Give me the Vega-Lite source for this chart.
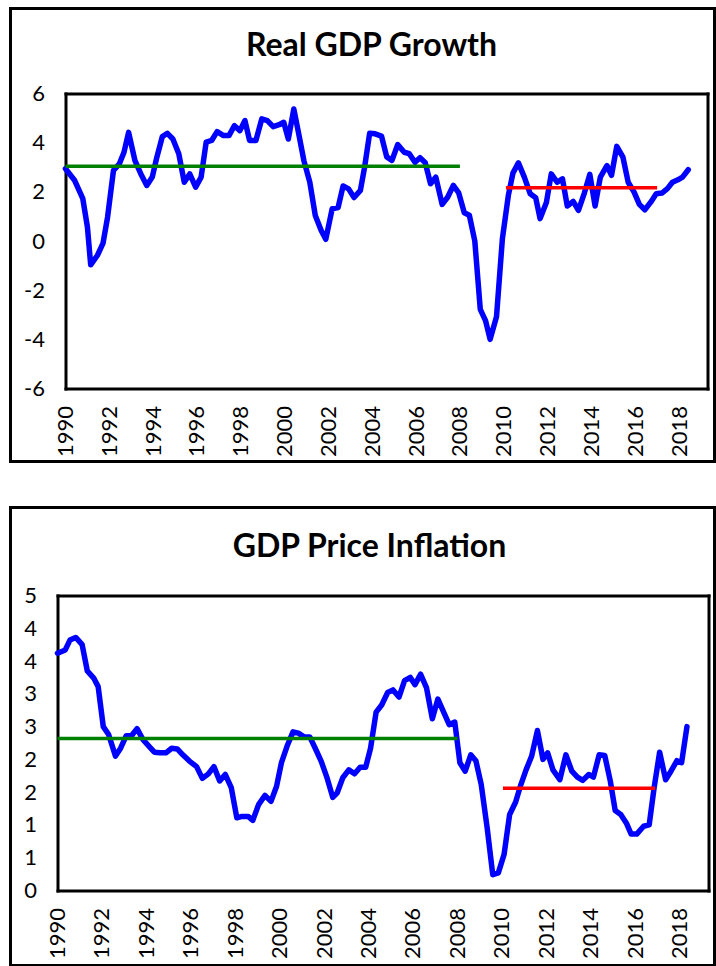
{
  "$schema": "https://vega.github.io/schema/vega-lite/v6.json",
  "padding": {"left": 8.5, "top": 6.5, "right": 0, "bottom": 0},
  "autosize": {"type": "pad"},
  "spacing": 42,
  "background": "white",
  "config": {
    "font": "Lato",
    "view": {"stroke": "#000", "strokeWidth": 3},
    "axis": {"grid": false, "ticks": false, "domain": true, "domainColor": "#000", "domainWidth": 3, "domainCap": "square", "labelFont": "Lato", "labelFontSize": 22, "labelColor": "#000", "labelFlush": false, "labelOverlap": false, "title": null},
    "title": {"font": "Lato", "fontSize": 32, "fontWeight": "bold", "color": "#000", "anchor": "middle", "frame": "group"}
  },
  "datasets": {
    "growth": [
      {"t":1990.00,"v":2.94},{"t":1990.42,"v":2.46},{"t":1990.79,"v":1.72},{"t":1991.00,"v":0.57},{"t":1991.15,"v":-0.97},{"t":1991.46,"v":-0.58},{"t":1991.71,"v":-0.10},{"t":1991.92,"v":0.97},{"t":1992.19,"v":2.87},{"t":1992.46,"v":3.14},{"t":1992.67,"v":3.61},{"t":1992.88,"v":4.42},{"t":1993.17,"v":3.27},{"t":1993.44,"v":2.73},{"t":1993.71,"v":2.26},{"t":1993.96,"v":2.60},{"t":1994.17,"v":3.41},{"t":1994.42,"v":4.25},{"t":1994.65,"v":4.38},{"t":1994.90,"v":4.15},{"t":1995.17,"v":3.55},{"t":1995.42,"v":2.39},{"t":1995.67,"v":2.73},{"t":1995.94,"v":2.19},{"t":1996.19,"v":2.60},{"t":1996.42,"v":4.02},{"t":1996.67,"v":4.09},{"t":1996.92,"v":4.45},{"t":1997.21,"v":4.29},{"t":1997.46,"v":4.29},{"t":1997.71,"v":4.69},{"t":1997.96,"v":4.49},{"t":1998.19,"v":4.90},{"t":1998.40,"v":4.09},{"t":1998.69,"v":4.09},{"t":1998.96,"v":4.97},{"t":1999.21,"v":4.90},{"t":1999.48,"v":4.65},{"t":1999.75,"v":4.73},{"t":1999.96,"v":4.83},{"t":2000.17,"v":4.15},{"t":2000.42,"v":5.37},{"t":2000.63,"v":4.42},{"t":2000.88,"v":3.27},{"t":2001.15,"v":2.39},{"t":2001.40,"v":1.04},{"t":2001.67,"v":0.43},{"t":2001.88,"v":0.07},{"t":2002.17,"v":1.31},{"t":2002.44,"v":1.36},{"t":2002.67,"v":2.24},{"t":2002.92,"v":2.12},{"t":2003.17,"v":1.77},{"t":2003.46,"v":2.06},{"t":2003.65,"v":3.00},{"t":2003.88,"v":4.38},{"t":2004.13,"v":4.36},{"t":2004.42,"v":4.27},{"t":2004.66,"v":3.42},{"t":2004.90,"v":3.28},{"t":2005.16,"v":3.92},{"t":2005.46,"v":3.61},{"t":2005.69,"v":3.55},{"t":2005.95,"v":3.20},{"t":2006.18,"v":3.39},{"t":2006.42,"v":3.18},{"t":2006.66,"v":2.33},{"t":2006.90,"v":2.60},{"t":2007.19,"v":1.49},{"t":2007.44,"v":1.78},{"t":2007.70,"v":2.26},{"t":2007.94,"v":1.97},{"t":2008.20,"v":1.15},{"t":2008.43,"v":1.05},{"t":2008.68,"v":0.00},{"t":2008.93,"v":-2.78},{"t":2009.17,"v":-3.24},{"t":2009.38,"v":-4.00},{"t":2009.67,"v":-3.08},{"t":2009.94,"v":0.10},{"t":2010.21,"v":1.85},{"t":2010.42,"v":2.76},{"t":2010.67,"v":3.18},{"t":2010.94,"v":2.60},{"t":2011.21,"v":1.92},{"t":2011.46,"v":1.76},{"t":2011.66,"v":0.91},{"t":2011.95,"v":1.58},{"t":2012.17,"v":2.73},{"t":2012.44,"v":2.39},{"t":2012.68,"v":2.53},{"t":2012.90,"v":1.42},{"t":2013.17,"v":1.61},{"t":2013.41,"v":1.25},{"t":2013.68,"v":1.95},{"t":2013.93,"v":2.71},{"t":2014.17,"v":1.42},{"t":2014.41,"v":2.60},{"t":2014.71,"v":3.07},{"t":2014.92,"v":2.67},{"t":2015.16,"v":3.85},{"t":2015.44,"v":3.41},{"t":2015.68,"v":2.39},{"t":2015.95,"v":1.99},{"t":2016.19,"v":1.49},{"t":2016.44,"v":1.27},{"t":2016.71,"v":1.58},{"t":2016.96,"v":1.92},{"t":2017.22,"v":1.95},{"t":2017.47,"v":2.13},{"t":2017.70,"v":2.39},{"t":2017.95,"v":2.49},{"t":2018.16,"v":2.60},{"t":2018.42,"v":2.90}
    ],
    "inflation": [
      {"t":1990.00,"v":3.62},{"t":1990.35,"v":3.67},{"t":1990.56,"v":3.82},{"t":1990.82,"v":3.86},{"t":1991.11,"v":3.75},{"t":1991.34,"v":3.35},{"t":1991.63,"v":3.24},{"t":1991.83,"v":3.11},{"t":1992.06,"v":2.50},{"t":1992.30,"v":2.38},{"t":1992.61,"v":2.05},{"t":1992.84,"v":2.17},{"t":1993.09,"v":2.36},{"t":1993.33,"v":2.36},{"t":1993.58,"v":2.47},{"t":1993.85,"v":2.30},{"t":1994.12,"v":2.20},{"t":1994.36,"v":2.11},{"t":1994.61,"v":2.10},{"t":1994.88,"v":2.10},{"t":1995.14,"v":2.17},{"t":1995.39,"v":2.16},{"t":1995.64,"v":2.07},{"t":1995.95,"v":1.97},{"t":1996.26,"v":1.89},{"t":1996.52,"v":1.71},{"t":1996.79,"v":1.78},{"t":1997.04,"v":1.89},{"t":1997.30,"v":1.67},{"t":1997.55,"v":1.77},{"t":1997.82,"v":1.57},{"t":1998.07,"v":1.11},{"t":1998.31,"v":1.13},{"t":1998.58,"v":1.13},{"t":1998.79,"v":1.07},{"t":1999.05,"v":1.31},{"t":1999.34,"v":1.45},{"t":1999.61,"v":1.36},{"t":1999.86,"v":1.59},{"t":2000.08,"v":1.95},{"t":2000.33,"v":2.20},{"t":2000.60,"v":2.42},{"t":2000.84,"v":2.40},{"t":2001.11,"v":2.34},{"t":2001.36,"v":2.34},{"t":2001.60,"v":2.17},{"t":2001.87,"v":1.97},{"t":2002.12,"v":1.73},{"t":2002.39,"v":1.42},{"t":2002.59,"v":1.49},{"t":2002.84,"v":1.72},{"t":2003.11,"v":1.84},{"t":2003.37,"v":1.78},{"t":2003.62,"v":1.88},{"t":2003.87,"v":1.88},{"t":2004.09,"v":2.17},{"t":2004.34,"v":2.72},{"t":2004.59,"v":2.83},{"t":2004.86,"v":3.02},{"t":2005.10,"v":3.06},{"t":2005.37,"v":2.95},{"t":2005.62,"v":3.20},{"t":2005.88,"v":3.25},{"t":2006.09,"v":3.14},{"t":2006.34,"v":3.30},{"t":2006.61,"v":3.09},{"t":2006.87,"v":2.62},{"t":2007.12,"v":2.92},{"t":2007.37,"v":2.73},{"t":2007.63,"v":2.53},{"t":2007.88,"v":2.57},{"t":2008.11,"v":1.95},{"t":2008.35,"v":1.82},{"t":2008.60,"v":2.07},{"t":2008.83,"v":1.98},{"t":2009.07,"v":1.62},{"t":2009.34,"v":0.95},{"t":2009.59,"v":0.24},{"t":2009.84,"v":0.27},{"t":2010.10,"v":0.55},{"t":2010.35,"v":1.16},{"t":2010.62,"v":1.35},{"t":2010.86,"v":1.62},{"t":2011.09,"v":1.84},{"t":2011.34,"v":2.05},{"t":2011.60,"v":2.44},{"t":2011.85,"v":2.00},{"t":2012.06,"v":2.10},{"t":2012.30,"v":1.84},{"t":2012.61,"v":1.69},{"t":2012.88,"v":2.07},{"t":2013.15,"v":1.82},{"t":2013.40,"v":1.73},{"t":2013.64,"v":1.68},{"t":2013.91,"v":1.77},{"t":2014.12,"v":1.73},{"t":2014.38,"v":2.07},{"t":2014.63,"v":2.06},{"t":2014.88,"v":1.67},{"t":2015.10,"v":1.22},{"t":2015.35,"v":1.16},{"t":2015.60,"v":1.03},{"t":2015.82,"v":0.86},{"t":2016.07,"v":0.86},{"t":2016.38,"v":0.98},{"t":2016.63,"v":1.00},{"t":2016.85,"v":1.56},{"t":2017.10,"v":2.11},{"t":2017.37,"v":1.69},{"t":2017.61,"v":1.82},{"t":2017.88,"v":1.98},{"t":2018.09,"v":1.95},{"t":2018.33,"v":2.50}
    ],
    "growthAvg": [
      {"period":"1990-2007","start":1990,"end":2008,"avg":3.04},
      {"period":"2010-2017","start":2010.1,"end":2017.0,"avg":2.17}
    ],
    "inflationAvg": [
      {"period":"1990-2007","start":1990,"end":2008,"avg":2.32},
      {"period":"2010-2017","start":2010.05,"end":2016.9,"avg":1.56}
    ]
  },
  "vconcat": [
    {
      "width": 704,
      "height": 453,
      "title": {"text": "Real GDP Growth", "offset": -54.7, "dx": 9},
      "resolve": {"axis": {"x": "independent", "y": "independent"}},
      "layer": [
        {
          "mark": {"type": "rule", "color": "#000", "strokeWidth": 1.5},
          "encoding": {
            "x": {"datum": 1990, "type": "quantitative", "axis": null},
            "x2": {"datum": 2019.3},
            "y": {"datum": 0, "type": "quantitative", "axis": null}
          }
        },
        {
          "data": {"name": "growth"},
          "mark": {"type": "line", "color": "#0000FF", "strokeWidth": 5.5, "strokeJoin": "round", "strokeCap": "round"},
          "encoding": {
            "x": {"field": "t", "type": "quantitative",
                  "scale": {"domain": [1990, 2019.3], "range": [55, 697], "nice": false, "zero": false},
                  "axis": {"orient": "bottom", "offset": -73, "values": [1990,1992,1994,1996,1998,2000,2002,2004,2006,2008,2010,2012,2014,2016,2018], "tickCount": 20, "labelAngle": -90, "labelPadding": 17, "labelExpr": "'' + datum.value"}},
            "y": {"field": "v", "type": "quantitative",
                  "scale": {"domain": [-6, 6], "range": [380, 85], "nice": false, "zero": false},
                  "axis": {"orient": "left", "offset": -55, "values": [-6,-4,-2,0,2,4,6], "tickCount": 20, "labelPadding": 21, "labelExpr": "'' + datum.value"}}
          }
        },
        {
          "data": {"name": "growthAvg"},
          "mark": {"type": "rule", "strokeWidth": 3.5},
          "encoding": {
            "x": {"field": "start", "type": "quantitative", "axis": {"orient": "top", "offset": -85, "labels": false, "ticks": false}},
            "x2": {"field": "end"},
            "y": {"field": "avg", "type": "quantitative", "axis": {"orient": "right", "offset": -7, "labels": false, "ticks": false}},
            "color": {"field": "period", "type": "nominal", "scale": {"domain": ["1990-2007","2010-2017"], "range": ["#008000","#FF0000"]}, "legend": null}
          }
        }
      ]
    },
    {
      "width": 704,
      "height": 458,
      "title": {"text": "GDP Price Inflation", "offset": -56.7, "dx": 7},
      "resolve": {"axis": {"x": "independent", "y": "independent"}},
      "layer": [
        {
          "data": {"name": "inflation"},
          "mark": {"type": "line", "color": "#0000FF", "strokeWidth": 5.5, "strokeJoin": "round", "strokeCap": "round"},
          "encoding": {
            "x": {"field": "t", "type": "quantitative",
                  "scale": {"domain": [1990, 2019.3], "range": [47, 698], "nice": false, "zero": false},
                  "axis": {"orient": "bottom", "offset": -75, "values": [1990,1992,1994,1996,1998,2000,2002,2004,2006,2008,2010,2012,2014,2016,2018], "tickCount": 20, "labelAngle": -90, "labelPadding": 17, "labelExpr": "'' + datum.value"}},
            "y": {"field": "v", "type": "quantitative",
                  "scale": {"domain": [0, 4.5], "range": [383, 88], "nice": false, "zero": false},
                  "axis": {"orient": "left", "offset": -47, "values": [0,0.5,1,1.5,2,2.5,3,3.5,4,4.5], "tickCount": 20, "labelPadding": 21, "labelExpr": "'' + round(datum.value)"}}
          }
        },
        {
          "data": {"name": "inflationAvg"},
          "mark": {"type": "rule", "strokeWidth": 3.5},
          "encoding": {
            "x": {"field": "start", "type": "quantitative", "axis": {"orient": "top", "offset": -88, "labels": false, "ticks": false}},
            "x2": {"field": "end"},
            "y": {"field": "avg", "type": "quantitative", "axis": {"orient": "right", "offset": -6, "labels": false, "ticks": false}},
            "color": {"field": "period", "type": "nominal", "scale": {"domain": ["1990-2007","2010-2017"], "range": ["#008000","#FF0000"]}, "legend": null}
          }
        }
      ]
    }
  ]
}
